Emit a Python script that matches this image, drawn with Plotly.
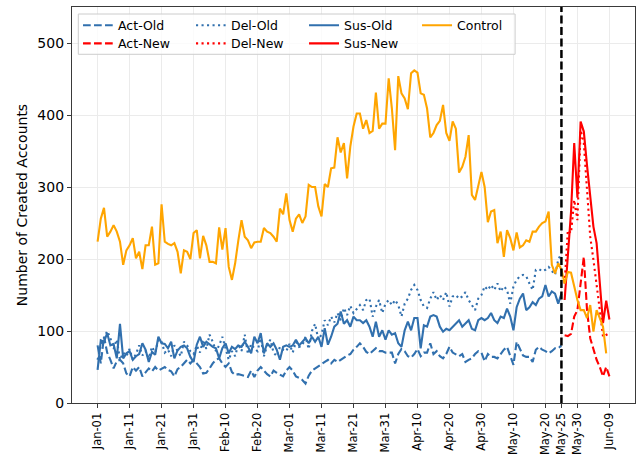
import datetime as dt
import plotly.graph_objects as go

# ---------------- data ----------------
START_OLD = "2020-01-01"
START_NEW = "2020-05-26"
START_CTRL = "2020-01-01"
SPLIT_DATE = "2020-05-25"

act_old = [80, 55, 92, 70, 60, 48, 58, 60, 55, 41,
           37, 50, 45, 50, 37, 42, 48, 44, 50, 45,
           48, 50, 46, 44, 37, 47, 50, 55, 60, 55,
           60, 55, 50, 41, 42, 48, 55, 60, 62, 55,
           50, 55, 43, 39, 40, 39, 38, 36, 45, 36,
           45, 50, 45, 40, 37, 45, 42, 40, 37, 45,
           50, 45, 37, 35, 32, 27, 38, 45, 48, 52,
           55, 58, 60, 55, 60, 57, 60, 64, 66, 68,
           74, 78, 83, 78, 71, 68, 72, 76, 72, 72,
           70, 70, 70, 55, 68, 75, 72, 65, 63, 68,
           75, 65, 70, 70, 83, 68, 72, 65, 62, 68,
           78, 70, 68, 65, 68, 57, 60, 62, 68, 72,
           70, 58, 68, 64, 64, 62, 68, 74, 78, 65,
           53, 85, 75, 66, 64, 64, 57, 74, 78, 74,
           72, 69, 72, 76, 76, 80]

sus_old = [46, 87, 85, 97, 80, 82, 62, 110, 62, 69,
           72, 60, 65, 68, 83, 74, 57, 71, 67, 92,
           83, 82, 76, 85, 62, 73, 78, 80, 76, 64,
           57, 81, 92, 78, 85, 81, 78, 76, 62, 76,
           83, 69, 78, 75, 80, 78, 85, 78, 69, 92,
           83, 97, 69, 83, 78, 83, 74, 60, 78, 80,
           78, 80, 88, 80, 85, 90, 83, 92, 85, 92,
           78, 104, 81, 92, 106, 110, 127, 110, 115, 106,
           120, 115, 115, 111, 115, 106, 92, 113, 92, 101,
           88, 101, 95, 97, 83, 78, 101, 113, 101, 118,
           118, 76, 108, 106, 120, 122, 120, 106, 99, 103,
           101, 106, 110, 115, 106, 110, 115, 103, 101, 115,
           118, 115, 118, 125, 115, 111, 120, 118, 131, 120,
           101, 133, 145, 152, 129, 133, 140, 136, 145, 148,
           164, 148, 155, 152, 138, 152]

del_old = [60, 80, 90, 100, 90, 75, 88, 60, 70, 65,
           75, 60, 68, 80, 66, 72, 62, 78, 70, 88,
           85, 70, 74, 65, 80, 72, 65, 85, 80, 72,
           68, 80, 70, 88, 75, 95, 85, 72, 80, 92,
           75, 60, 72, 65, 82, 72, 95, 68, 82, 76,
           72, 90, 65, 80, 88, 70, 65, 78, 74, 72,
           82, 70, 85, 78, 80, 92, 75, 100, 110, 88,
           95, 115, 108, 120, 112, 125, 115, 132, 122, 135,
           125, 130, 136, 129, 143, 145, 120, 134, 143, 125,
           138, 143, 136, 143, 136, 120, 138, 145, 157, 164,
           157, 143, 134, 132, 145, 154, 143, 150, 143, 154,
           134, 148, 150, 145, 148, 154, 143, 136, 129, 145,
           150, 162, 157, 164, 157, 166, 155, 162, 157, 138,
           162, 171, 176, 178, 176, 166, 157, 185, 186, 183,
           185, 189, 183, 178, 199, 208]

act_new = [94, 93, 96, 120, 129, 165, 203, 129, 90, 75, 60, 50, 37, 50, 37]
del_new = [166, 240, 236, 282, 254, 379, 361, 292, 231, 199, 167, 129, 92, 95, 97]
sus_new = [143, 199, 265, 361, 285, 391, 377, 330, 285, 245, 222, 167, 111, 142, 116]

control = [224, 256, 271, 231, 238, 247, 238, 224, 192, 212,
           219, 229, 201, 210, 186, 219, 219, 245, 192, 194,
           276, 224, 221, 219, 222, 210, 180, 212, 210, 200,
           236, 240, 201, 232, 219, 196, 196, 194, 244, 213,
           243, 189, 171, 194, 226, 254, 231, 226, 215, 223,
           224, 224, 243, 238, 236, 231, 224, 270, 262, 291,
           254, 238, 256, 262, 250, 259, 303, 300, 300, 273,
           259, 304, 300, 326, 327, 369, 348, 361, 312, 356,
           384, 402, 402, 381, 393, 375, 378, 431, 381, 388,
           388, 451, 409, 351, 454, 430, 423, 408, 458, 462,
           459, 430, 428, 409, 369, 375, 386, 392, 414, 375,
           364, 391, 381, 320, 328, 342, 372, 289, 282, 303,
           321, 300, 251, 266, 268, 222, 238, 203, 240, 229,
           212, 237, 216, 219, 226, 224, 238, 238, 245, 250,
           252, 266, 192, 180, 194, 185, 166, 182, 181, 162,
           143, 129, 129, 118, 136, 99, 129, 118, 106, 69]

TICK_DATES = ["2020-01-01", "2020-01-11", "2020-01-21", "2020-01-31", "2020-02-10",
              "2020-02-20", "2020-03-01", "2020-03-11", "2020-03-21", "2020-03-31",
              "2020-04-10", "2020-04-20", "2020-04-30", "2020-05-10", "2020-05-20",
              "2020-05-25", "2020-05-30", "2020-06-09"]
TICK_LABELS = ["Jan-01", "Jan-11", "Jan-21", "Jan-31", "Feb-10", "Feb-20", "Mar-01",
               "Mar-11", "Mar-21", "Mar-31", "Apr-10", "Apr-20", "Apr-30", "May-10",
               "May-20", "May-25", "May-30", "Jun-09"]
Y_TICKS = [0, 100, 200, 300, 400, 500]


def days(start, n):
    d0 = dt.date.fromisoformat(start)
    return [d0 + dt.timedelta(days=i) for i in range(n)]


BLUE = "#3170ae"
RED = "#ff0000"
ORANGE = "#ffa500"
LW = 2.1
DASH = "7.7px,3.3px"
DOT = "2.1px,3.4px"

series = [
    ("Act-Old", act_old, START_OLD, BLUE, DASH, "legend"),
    ("Act-New", act_new, START_NEW, RED, DASH, "legend2"),
    ("Del-Old", del_old, START_OLD, BLUE, DOT, "legend"),
    ("Del-New", del_new, START_NEW, RED, DOT, "legend2"),
    ("Sus-Old", sus_old, START_OLD, BLUE, "solid", "legend"),
    ("Sus-New", sus_new, START_NEW, RED, "solid", "legend2"),
    ("Control", control, START_CTRL, ORANGE, "solid", "legend"),
]

fig = go.Figure()
for name, vals, start, color, dash, leg in series:
    fig.add_trace(go.Scatter(
        x=days(start, len(vals)), y=vals, name=name, mode="lines",
        line=dict(color=color, width=LW, dash=dash),
        legend=leg,
    ))

fig.add_shape(type="line", xref="x", yref="paper", x0=SPLIT_DATE, x1=SPLIT_DATE,
              y0=0, y1=1, line=dict(color="black", width=2.5, dash="8px,3.5px"),
              layer="above")

# legend frame
fig.add_shape(type="rect", xref="paper", yref="paper",
              x0=0.0112, x1=0.787, y0=0.8806, y1=0.9823,
              line=dict(color="#cccccc", width=1), fillcolor="rgba(255,255,255,0.8)",
              layer="above")

AX_COL = "#3a3a3a"
GRID = "#ebebeb"
FONT = "DejaVu Sans"

fig.update_layout(
    width=639, height=464,
    margin=dict(l=72, r=4, t=7, b=61, autoexpand=False),
    paper_bgcolor="white", plot_bgcolor="white",
    font=dict(family=FONT, color="black"),
    showlegend=True,
    legend=dict(orientation="h", x=0.0107, xanchor="left", y=0.991, yanchor="top",
                bgcolor="rgba(0,0,0,0)", borderwidth=0, font=dict(size=12.5, family=FONT),
                entrywidth=68, entrywidthmode="pixels", itemwidth=30, tracegroupgap=0),
    legend2=dict(orientation="h", x=0.0107, xanchor="left", y=0.945, yanchor="top",
                 bgcolor="rgba(0,0,0,0)", borderwidth=0, font=dict(size=12.5, family=FONT),
                 entrywidth=68, entrywidthmode="pixels", itemwidth=30, tracegroupgap=0),
    xaxis=dict(
        range=["2019-12-24", "2020-06-17"], automargin=False,
        tickmode="array", tickvals=TICK_DATES, ticktext=TICK_LABELS,
        tickangle=-90, tickfont=dict(size=11.5, family=FONT, color="black"),
        showgrid=True, gridcolor=GRID, gridwidth=1,
        showline=True, linecolor=AX_COL, linewidth=1.3, mirror=True,
        ticks="outside", ticklen=4, tickwidth=1.1, tickcolor=AX_COL,
        zeroline=False,
    ),
    yaxis=dict(
        range=[0, 550], automargin=False,
        tickmode="array", tickvals=Y_TICKS,
        tickfont=dict(size=14, family=FONT, color="black"),
        showgrid=True, gridcolor=GRID, gridwidth=1,
        showline=True, linecolor=AX_COL, linewidth=1.3, mirror=True,
        ticks="outside", ticklen=4, tickwidth=1.1, tickcolor=AX_COL,
        zeroline=False,
        title=dict(text="Number of Created Accounts", font=dict(size=14, family=FONT),
                   standoff=6),
    ),
)

fig.write_html("out.html", config={"displayModeBar": False},
               post_script="document.body.style.margin='0px';")
